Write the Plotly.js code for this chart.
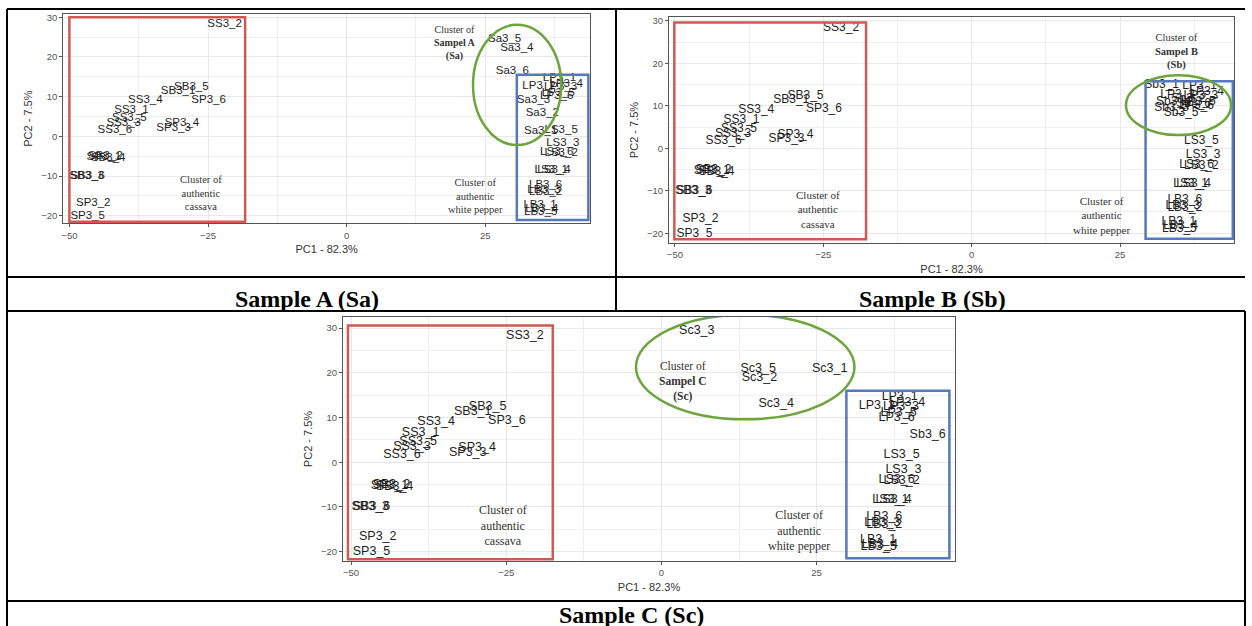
<!DOCTYPE html>
<html>
<head>
<meta charset="utf-8">
<script src="https://cdn.plot.ly/plotly-3.0.1.min.js"></script>
<style>html,body{margin:0;padding:0;background:#fff;}#chart{width:1252px;height:626px;}</style>
</head>
<body>
<div id="chart"></div>
<script>
// Reference (authentic) samples, shared by all three panels
const refLabels = ["SS3_1","SS3_2","SS3_3","SS3_4","SS3_5","SS3_6",
  "SB3_1","SB3_2","SB3_3","SB3_4","SB3_5","SB3_6",
  "SP3_1","SP3_2","SP3_3","SP3_4","SP3_5","SP3_6",
  "LP3_1","LP3_2","LP3_3","LP3_4","LP3_5","LP3_6",
  "LS3_1","LS3_2","LS3_3","LS3_4","LS3_5","LS3_6",
  "LB3_1","LB3_2","LB3_3","LB3_4","LB3_5","LB3_6"];
const refPC1 = [-38.8,-22.0,-40.2,-36.3,-39.2,-41.8,
  -30.4,-43.5,-46.9,-43.0,-28.0,-46.7,
  -43.8,-45.7,-31.2,-29.7,-46.7,-24.9,
  38.4,34.7,38.6,39.6,38.2,37.9,
  36.9,38.7,39.0,37.4,38.7,37.9,
  34.9,35.9,35.6,35.2,35.0,35.9];
const refPC2 = [6.6,28.2,3.4,9.0,4.5,1.6,
  11.3,-5.0,-10.0,-5.6,12.4,-10.1,
  -5.3,-16.7,2.1,3.2,-20.1,9.2,
  14.6,12.6,12.4,13.2,11.0,10.0,
  -8.4,-4.2,-1.7,-8.5,1.6,-4.0,
  -17.4,-14.0,-13.6,-18.4,-19.0,-12.2];

// Sample A
const saLabels = ["Sa3_1","Sa3_2","Sa3_3","Sa3_4","Sa3_5","Sa3_6"];
const saPC1 = [35.0,35.3,33.7,30.7,28.5,29.9];
const saPC2 = [1.3,5.9,9.2,22.3,24.5,16.5];
// Sample B
const sbLabels = ["Sb3_1","Sb3_2","Sb3_3","Sb3_4","Sb3_5","Sb3_6"];
const sbPC1 = [32.0,36.6,33.7,34.0,35.3,37.4];
const sbPC2 = [14.9,11.6,9.4,10.9,8.3,10.4];
// Sample C (last point is labelled "Sb3_6" in the original figure)
const scLabels = ["Sc3_1","Sc3_2","Sc3_3","Sc3_4","Sc3_5","Sb3_6"];
const scPC1 = [27.1,15.8,5.7,18.5,15.6,42.9];
const scPC2 = [20.9,18.9,29.4,13.1,20.9,6.1];

const xTitle = "PC1 - 82.3%";
const yTitle = "PC2 - 7.5%";
const captions = ["Sample A (Sa)","Sample B (Sb)","Sample C (Sc)"];

const W = 1252, H = 626;
const px = v => v / W;
const py = v => 1 - v / H;

const panels = [
  {xs:"x", ys:"y", xa:"xaxis", ya:"yaxis", dom:[63.3,590,14,223.3], xr:[-51.1,43.9], yr:[-21.9,30.8],
   labels:saLabels, pc1:saPC1, pc2:saPC2, fs:11.5, cf:10.5,
   red:[-50.0,-18.3,-21.5,30.0], blue:[30.7,43.6,-21.1,15.5], green:[22.8,38.7,-2.2,28.1],
   cas:[-26.2,-14.3], wp:[23.2,-15.0], sm:[19.5,23.5,"A","Sa"]},
  {xs:"x2", ys:"y2", xa:"xaxis2", ya:"yaxis2", dom:[669,1234,17,243], xr:[-51.0,44.2], yr:[-22.3,30.9],
   labels:sbLabels, pc1:sbPC1, pc2:sbPC2, fs:12, cf:11,
   red:[-50.1,-17.8,-21.4,29.6], blue:[29.3,44.0,-21.3,15.8], green:[26.0,43.7,3.1,17.2],
   cas:[-25.9,-14.4], wp:[21.9,-15.8], sm:[34.5,22.8,"B","Sb"]},
  {xs:"x3", ys:"y3", xa:"xaxis3", ya:"yaxis3", dom:[343,955,317,561], xr:[-51.3,47.3], yr:[-22.1,32.5],
   labels:scLabels, pc1:scPC1, pc2:scPC2, fs:12.5, cf:12,
   red:[-50.5,-17.5,-21.7,30.6], blue:[29.8,46.4,-21.5,16.0], green:[-4.1,31.1,9.6,33.0],
   cas:[-25.5,-14.1], wp:[22.2,-15.2], sm:[3.5,18.1,"C","Sc"]}
];

const traces = [];
const layout = {
  width: W, height: H,
  margin: {l:0, r:0, t:0, b:0},
  paper_bgcolor: "#fff", plot_bgcolor: "#fff",
  showlegend: false,
  font: {family: "Liberation Sans, Arial, sans-serif", color: "#333"},
  shapes: [], annotations: []
};

const serif = "Liberation Serif, Times New Roman, serif";

panels.forEach((p, i) => {
  traces.push({
    type: "scatter", mode: "text",
    x: refPC1.concat(p.pc1), y: refPC2.concat(p.pc2),
    text: refLabels.concat(p.labels),
    textposition: "middle center",
    textfont: {family: "Liberation Sans, Arial, sans-serif", size: p.fs, color: "#1e1e1e"},
    xaxis: p.xs, yaxis: p.ys, hoverinfo: "text", cliponaxis: false
  });
  const axCommon = {
    showgrid: true, gridcolor: "#e8e8e8", gridwidth: 1,
    zeroline: false, showline: true, mirror: true, linecolor: "#555", linewidth: 1,
    ticks: "outside", ticklen: 3, tickcolor: "#555",
    tickfont: {size: 9.5, color: "#555"}
  };
  layout[p.xa] = Object.assign({}, axCommon, {
    domain: [px(p.dom[0]), px(p.dom[1])], range: p.xr, anchor: p.ys,
    tick0: -50, dtick: 25,
    minor: {tick0: -50, dtick: 12.5, showgrid: true, gridcolor: "#f0f0f0"},
    title: {text: xTitle, font: {size: 11, color: "#333"}, standoff: 5}
  });
  layout[p.ya] = Object.assign({}, axCommon, {
    domain: [py(p.dom[3]), py(p.dom[2])], range: p.yr, anchor: p.xs,
    tick0: -20, dtick: 10,
    minor: {tick0: -20, dtick: 5, showgrid: true, gridcolor: "#f0f0f0"},
    title: {text: yTitle, font: {size: 11, color: "#333"}, standoff: 6}
  });
  // cluster rectangles and ellipse
  layout.shapes.push({type:"rect", xref:p.xs, yref:p.ys, x0:p.red[0], x1:p.red[1], y0:p.red[2], y1:p.red[3],
    line:{color:"#cf5a52", width:2.5}});
  layout.shapes.push({type:"rect", xref:p.xs, yref:p.ys, x0:p.blue[0], x1:p.blue[1], y0:p.blue[2], y1:p.blue[3],
    line:{color:"#5578c0", width:2.5}});
  layout.shapes.push({type:"circle", xref:p.xs, yref:p.ys, x0:p.green[0], x1:p.green[1], y0:p.green[2], y1:p.green[3],
    line:{color:"#6ea43c", width:2.5}});
  // cluster notes
  layout.annotations.push({xref:p.xs, yref:p.ys, x:p.cas[0], y:p.cas[1], showarrow:false,
    xanchor:"center", yanchor:"middle",
    text:"Cluster of<br>authentic<br>cassava", font:{family:serif, size:p.cf, color:"#333"}});
  layout.annotations.push({xref:p.xs, yref:p.ys, x:p.wp[0], y:p.wp[1], showarrow:false,
    xanchor:"center", yanchor:"middle",
    text:"Cluster of<br>authentic<br>white pepper", font:{family:serif, size:p.cf, color:"#333"}});
  layout.annotations.push({xref:p.xs, yref:p.ys, x:p.sm[0], y:p.sm[1], showarrow:false,
    xanchor:"center", yanchor:"middle",
    text:"Cluster of<br><b>Sampel " + p.sm[2] + "</b><br><b>(" + p.sm[3] + ")</b>", font:{family:serif, size:p.cf - 0.5, color:"#333"}});
});

// captions
const capPos = [[307, 299], [932, 299], [631, 615]];
captions.forEach((c, i) => {
  layout.annotations.push({xref:"paper", yref:"paper", x:px(capPos[i][0]), y:py(capPos[i][1]),
    xanchor:"center", yanchor:"middle",
    showarrow:false, text:"<b>" + c + "</b>", font:{family:serif, size:24, color:"#000"}});
});

// table borders
const tableLines = [
  [7, 9, 1245, 9], [7, 277, 1245, 277], [7, 311, 1245, 311], [7, 601, 1245, 601],
  [7, 9, 7, 626], [616, 9, 616, 311], [1245, 311, 1245, 626]
];
tableLines.forEach(l => {
  layout.shapes.push({type:"line", xref:"paper", yref:"paper", x0:px(l[0]), y0:py(l[1]), x1:px(l[2]), y1:py(l[3]),
    line:{color:"#000", width:2}});
});

Plotly.newPlot("chart", traces, layout, {staticPlot: true, displayModeBar: false});
</script>
</body>
</html>
